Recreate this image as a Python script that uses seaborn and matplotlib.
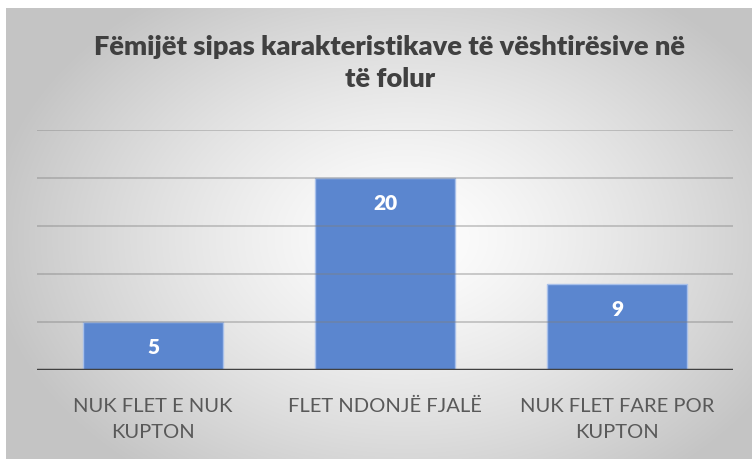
import numpy as np
import pandas as pd
import matplotlib
matplotlib.use("Agg")
import matplotlib.pyplot as plt
import seaborn as sns

categories = ["NUK FLET E NUK\nKUPTON", "FLET NDONJË FJALË", "NUK FLET FARE POR\nKUPTON"]
values = [5, 20, 9]
title = "Fëmijët sipas karakteristikave të vështirësive në\ntë folur"

df = pd.DataFrame({"cat": categories, "val": values})

sns.set_theme(style="white")
plt.rcParams['font.family'] = ['Lato', 'DejaVu Sans']

W, H = 752, 459
fig = plt.figure(figsize=(W / 100, H / 100), dpi=100)
fig.patch.set_facecolor("white")

# radial gradient background
bg = fig.add_axes([6 / W, 0, 1 - 6 / W, 1 - 8 / H])
yy, xx = np.mgrid[0:451, 0:746]
cx, cy = 400, 230
r = np.sqrt(((xx - cx) / 420.0) ** 2 + ((yy - cy) / 300.0) ** 2)
r = np.clip(r, 0, 1)
val = 1.0 - 0.23 * r ** 1.3
img = np.dstack([val, val, val])
bg.imshow(img, aspect="auto", extent=[0, 1, 0, 1], origin="upper")
bg.set_axis_off()

ax = fig.add_axes([37 / W, 1 - 370 / H, (733 - 37) / W, (370 - 130) / H])
ax.patch.set_alpha(0)
sns.barplot(data=df, x="cat", y="val", ax=ax, color="#5b86cf", width=0.6,
            edgecolor="#a8c0ea", linewidth=1, saturation=1, zorder=2)
ax.set_ylim(0, 25)
ax.set_xlim(-0.5, 2.5)
for yv in [5, 10, 15, 20, 25]:
    ax.axhline(yv, color="#7f7f7f", alpha=0.45, lw=1.2, zorder=3)
ax.axhline(0, color="#404040", lw=2.5, zorder=4)
for s in ax.spines.values():
    s.set_visible(False)
ax.set_yticks([])
ax.set_xlabel("")
ax.set_ylabel("")
ax.tick_params(axis="x", length=0, pad=20, labelsize=14.5, labelcolor="#595959")
for lab in ax.get_xticklabels():
    lab.set_linespacing(1.65)

for i, v in enumerate(values):
    ax.annotate(str(v), (i, v), xytext=(0, -26), textcoords="offset pixels",
                ha="center", va="center", color="white", fontsize=15, fontweight="heavy", zorder=5)

fig.text(390 / W, 1 - 63 / H, title, ha="center", va="center", fontsize=19.6,
         fontweight="heavy", color="#404040", linespacing=1.4)

fig.savefig("out.png", dpi=100)
